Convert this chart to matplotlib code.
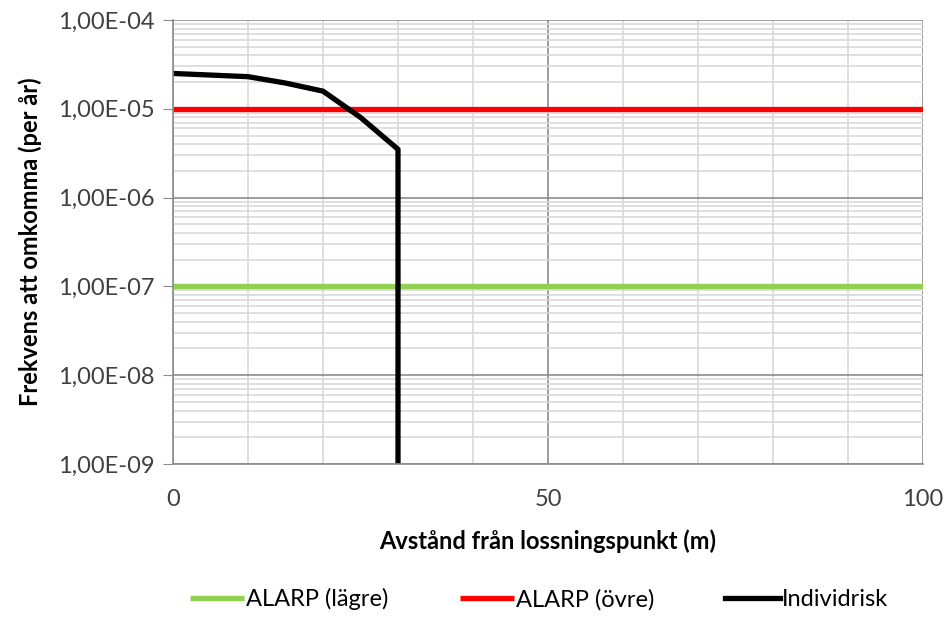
import numpy as np
import matplotlib
matplotlib.use('Agg')
import matplotlib.pyplot as plt
from matplotlib.ticker import FixedLocator, FuncFormatter, LogLocator, MultipleLocator

# data
x_range = [0, 100]
alarp_lower = [1e-7, 1e-7]
alarp_upper = [1e-5, 1e-5]
risk_x = [0, 10, 15, 20, 25, 30, 30]
risk_y = [2.5e-5, 2.3e-5, 1.95e-5, 1.58e-5, 8.0e-6, 3.5e-6, 1e-10]

plt.rcParams['font.family'] = ['Lato', 'DejaVu Sans']

fig = plt.figure(figsize=(9.49, 6.19), dpi=100)
ax = fig.add_axes([0.1823, 0.2504, 0.7903, 0.7173])

ax.set_yscale('log')
ax.set_xlim(0, 100)
ax.set_ylim(1e-9, 1e-4)

# grid: light minor lines, darker major lines
ax.xaxis.set_major_locator(FixedLocator([0, 50, 100]))
ax.xaxis.set_minor_locator(MultipleLocator(10))
ax.yaxis.set_major_locator(LogLocator(base=10, numticks=10))
ax.yaxis.set_minor_locator(LogLocator(base=10, subs=np.arange(2, 10), numticks=20))
ax.grid(which='minor', color='#d9d9d9', linewidth=1.2)
ax.grid(which='major', color='#8c8c8c', linewidth=1.2)
ax.set_axisbelow(True)

ax.plot(x_range, alarp_lower, color='#92d050', linewidth=3.8, label='ALARP (lägre)', solid_capstyle='butt')
ax.plot(x_range, alarp_upper, color='#ff0000', linewidth=3.8, label='ALARP (övre)', solid_capstyle='butt')
ax.plot(risk_x, risk_y, color='black', linewidth=3.8, label='Individrisk')

def sci_comma(v, pos):
    e = int(round(np.log10(v)))
    return f"1,00E{e:+03d}".replace('+', '')

ax.yaxis.set_major_formatter(FuncFormatter(sci_comma))
ax.yaxis.set_minor_formatter(FuncFormatter(lambda v, p: ''))

for s in ['top', 'right']:
    ax.spines[s].set_visible(False)
for s in ['left', 'bottom']:
    ax.spines[s].set_color('#8c8c8c')
    ax.spines[s].set_linewidth(1.2)

ax.tick_params(axis='y', which='major', length=7, color='#8c8c8c', labelsize=17, labelcolor='#404040', pad=6)
ax.tick_params(axis='y', which='minor', length=0)
ax.tick_params(axis='x', which='both', length=0, labelsize=17, labelcolor='#404040', pad=18)

ax.set_xlabel('Avstånd från lossningspunkt (m)', fontsize=17, fontweight='bold', labelpad=14)
ax.set_ylabel('Frekvens att omkomma (per år)', fontsize=17, fontweight='bold', labelpad=12)

fig.legend(loc='lower center', bbox_to_anchor=(0.568, -0.02), ncol=3, frameon=False,
           fontsize=17, handlelength=2.3, handletextpad=0.1, columnspacing=3.0)

fig.savefig('out.png', dpi=100)
